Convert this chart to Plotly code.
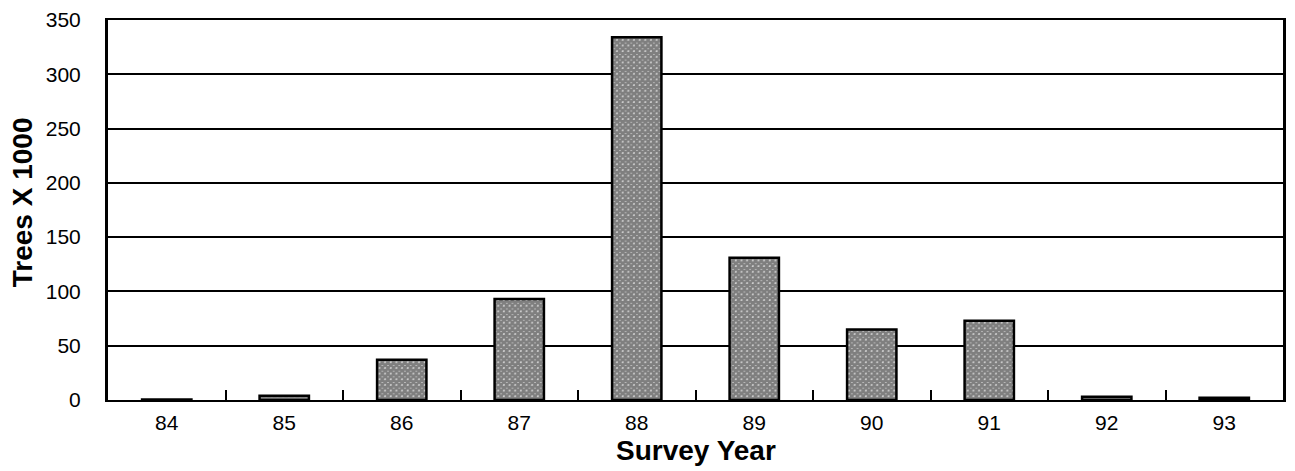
import plotly.graph_objects as go

years = ["84", "85", "86", "87", "88", "89", "90", "91", "92", "93"]
trees = [0.5, 4, 37, 93, 334, 131, 65, 73, 3, 2]
y_ticks = [0, 50, 100, 150, 200, 250, 300, 350]

fig = go.Figure()
fig.add_trace(go.Bar(
    x=years, y=trees, width=0.42,
    marker=dict(
        color="#555555",
        line=dict(color="black", width=2.5),
        pattern=dict(shape="x", size=4, solidity=0.9, fgcolor="#000000", bgcolor="#ffffff"),
    ),
))

font = "Liberation Sans, Arial, Helvetica, sans-serif"
fig.update_layout(
    width=1287, height=463,
    margin=dict(l=100, r=12, t=12, b=71, autoexpand=False),
    paper_bgcolor="white", plot_bgcolor="white",
    showlegend=False,
    font=dict(family=font, color="black", size=21),
    xaxis=dict(
        type="category", tickson="boundaries", ticks="inside", ticklen=10, tickwidth=2,
        tickcolor="black", showline=True, linecolor="black", linewidth=2, mirror=True,
        showgrid=False, ticklabelstandoff=3, automargin=False,
        tickfont=dict(size=21),
    ),
    yaxis=dict(
        range=[0, 350], tickvals=y_ticks, ticks="", showline=True, linecolor="black",
        linewidth=3, mirror=True, showgrid=True, gridcolor="black", gridwidth=2,
        zeroline=False, ticklabelstandoff=20, tickfont=dict(size=21), automargin=False,
    ),
    annotations=[
        dict(text="<b>Survey Year</b>", xref="paper", yref="paper", x=0.5, y=-0.134,
             xanchor="center", yanchor="middle", showarrow=False, font=dict(size=28)),
        dict(text="<b>Trees X 1000</b>", xref="paper", yref="paper", x=-0.073, y=0.521,
             xanchor="center", yanchor="middle", showarrow=False, textangle=-90,
             font=dict(size=28)),
    ],
)

fig.write_html("out.html")
